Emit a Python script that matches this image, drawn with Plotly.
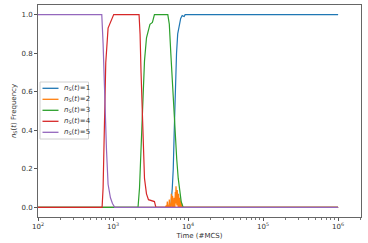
import plotly.graph_objects as go

# ---- data ----
t_n1 = [100, 5890, 6163, 6350, 6546, 6752, 7020, 7277, 7620, 7977, 8350, 8870, 9140, 1e6]
f_n1 = [0.0, 0.0, 0.10, 0.20, 0.40, 0.60, 0.80, 0.90, 0.95, 0.98, 0.995, 0.99, 1.0, 1.0]

t_n2 = [100, 4980, 5130, 5210, 5290, 5370, 5452, 5540, 5625, 5710, 5800, 5890, 5980, 6045,
        6110, 6165, 6220, 6285, 6350, 6425, 6500, 6560, 6620, 6685, 6752, 6830, 6905, 6960,
        7020, 7100, 7180, 7255, 7330, 7400, 7470, 7545, 7620, 7700, 7780, 7855, 7930, 8015,
        8103, 8350, 1e6]
f_n2 = [0.0, 0.0, 0.01, 0.0, 0.03, 0.0, 0.01, 0.0, 0.04, 0.0, 0.02, 0.0, 0.07, 0.01,
        0.03, 0.0, 0.06, 0.0, 0.02, 0.0, 0.05, 0.0, 0.01, 0.0, 0.08, 0.02, 0.11, 0.03,
        0.06, 0.01, 0.09, 0.0, 0.04, 0.0, 0.07, 0.0, 0.02, 0.0, 0.05, 0.0, 0.01, 0.0,
        0.03, 0.0, 0.0]

t_n3 = [100, 2154, 2254, 2363, 2474, 2548, 2626, 2792, 2967, 3105, 3350, 3452, 3563,
        5370, 5625, 5890, 6163, 6450, 6752, 7066, 7396, 7740, 8103, 8616, 1e6]
f_n3 = [0.0, 0.0, 0.10, 0.30, 0.50, 0.65, 0.76, 0.88, 0.93, 0.95, 0.96, 0.99, 1.0,
        1.0, 0.95, 0.80, 0.65, 0.50, 0.40, 0.25, 0.15, 0.07, 0.03, 0.0, 0.0]

t_n4 = [100, 715, 737, 765, 800, 859, 904, 933, 983, 1021,
        2223, 2293, 2363, 2436, 2511, 2626, 2792, 2967, 3563, 3727, 1e6]
f_n4 = [0.0, 0.0, 0.10, 0.45, 0.75, 0.93, 0.95, 0.97, 0.99, 1.0,
        1.0, 0.90, 0.70, 0.50, 0.30, 0.15, 0.07, 0.04, 0.03, 0.0, 0.0]

t_n5 = [100, 708, 737, 777, 818, 859, 924, 983, 1053, 1e6]
f_n5 = [1.0, 1.0, 0.85, 0.55, 0.30, 0.12, 0.05, 0.02, 0.0, 0.0]

series_names = ["1", "2", "3", "4", "5"]
series_t = [t_n1, t_n2, t_n3, t_n4, t_n5]
series_f = [f_n1, f_n2, f_n3, f_n4, f_n5]
colors = ["#1f77b4", "#ff7f0e", "#2ca02c", "#d62728", "#9467bd"]

x_tick_vals = [1e2, 1e3, 1e4, 1e5, 1e6]
x_tick_text = ["10<sup>2</sup>", "10<sup>3</sup>", "10<sup>4</sup>", "10<sup>5</sup>", "10<sup>6</sup>"]
y_tick_vals = [0.0, 0.2, 0.4, 0.6, 0.8, 1.0]

FONT = "DejaVu Sans"
TXT = "#333333"
W, H = 368, 243
ML, MR, MT, MB = 38, 7, 5, 26
PW, PH = W - ML - MR, H - MT - MB


def px_x(px):
    return (px - ML) / PW


def px_y(py):
    return (H - MB - py) / PH


fig = go.Figure()
labels = []
for name, t, f, c in zip(series_names, series_t, series_f, colors):
    lab = "<i>n</i><sub>S</sub>(<i>t</i>)=" + name
    labels.append(lab)
    fig.add_trace(go.Scatter(
        x=t, y=f, mode="lines", name=lab, showlegend=False,
        line=dict(color=c, width=1.2),
    ))

# manual compact legend (matplotlib-style)
shapes = [dict(type="rect", xref="paper", yref="paper",
               x0=px_x(40), x1=px_x(88.5), y0=px_y(139), y1=px_y(82),
               line=dict(color="#d0d0d0", width=1), fillcolor="rgba(255,255,255,0.8)",
               layer="above")]
annotations = []
for i, (lab, c) in enumerate(zip(labels, colors)):
    yy = px_y(88.3 + i * 11.0)
    shapes.append(dict(type="line", xref="paper", yref="paper",
                       x0=px_x(42.5), x1=px_x(58.5), y0=yy, y1=yy,
                       line=dict(color=c, width=1.3), layer="above"))
    annotations.append(dict(xref="paper", yref="paper", x=px_x(61.5), y=yy,
                            xanchor="left", yanchor="middle", showarrow=False,
                            text=lab, font=dict(size=7, family=FONT, color=TXT)))

minor_vals = [m * 10 ** k for k in range(2, 7) for m in range(2, 10)]

fig.update_layout(
    width=W, height=H,
    margin=dict(l=ML, r=MR, t=MT, b=MB, autoexpand=False),
    paper_bgcolor="white", plot_bgcolor="white",
    font=dict(family=FONT, size=7, color=TXT),
    showlegend=False,
    shapes=shapes, annotations=annotations,
    xaxis=dict(
        type="log", range=[2, 6.305], automargin=False,
        tickvals=x_tick_vals, ticktext=x_tick_text,
        ticks="outside", ticklen=3, tickcolor="#555",
        showgrid=False, zeroline=False,
        showline=True, mirror=True, linecolor="#666", linewidth=1,
        minor=dict(tickvals=minor_vals, ticks="outside", ticklen=1.5, tickcolor="#777", showgrid=False),
        title=dict(text="Time (#MCS)", font=dict(size=7, family=FONT, color=TXT), standoff=2),
        tickfont=dict(size=7, family=FONT, color=TXT),
    ),
    yaxis=dict(
        range=[-0.05, 1.05], automargin=False,
        tickvals=y_tick_vals, tickformat=".1f",
        ticks="outside", ticklen=3, tickcolor="#555",
        showgrid=False, zeroline=False,
        showline=True, mirror=True, linecolor="#666", linewidth=1,
        title=dict(text="<i>n</i><sub>S</sub>(<i>t</i>) Frequency", font=dict(size=7, family=FONT, color=TXT), standoff=4),
        tickfont=dict(size=7, family=FONT, color=TXT),
    ),
)

fig.write_html("out.html", config={"displayModeBar": False},
               post_script="document.body.style.margin='0';")
